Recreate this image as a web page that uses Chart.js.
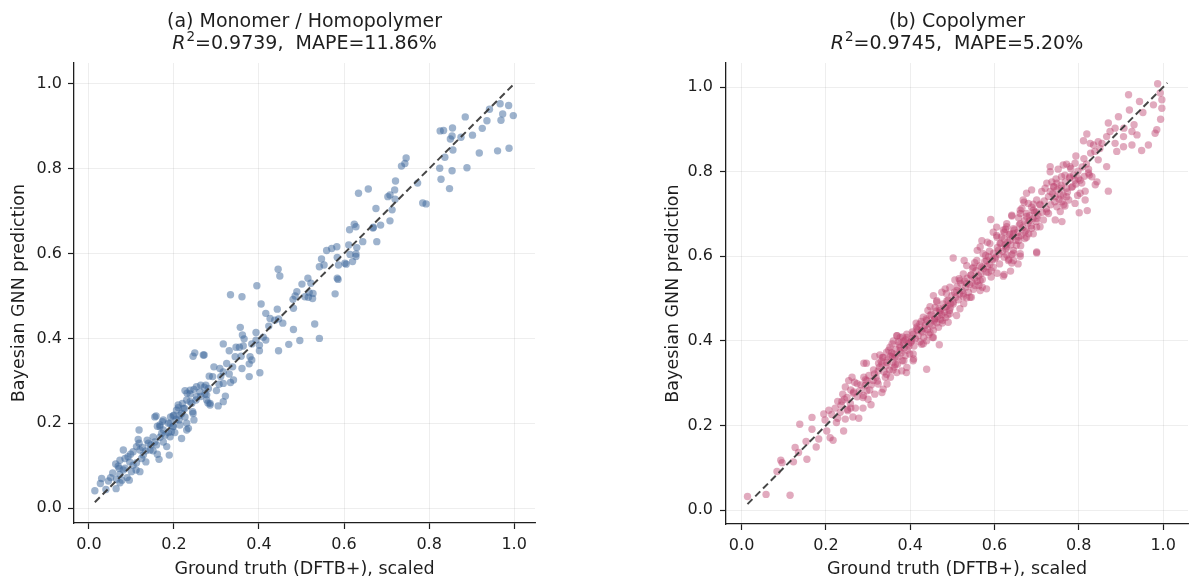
<!DOCTYPE html>
<html><head><meta charset="utf-8">
<script src="https://cdn.jsdelivr.net/npm/chart.js@4.4.1/dist/chart.umd.min.js"></script>
<style>
html,body{margin:0;padding:0;background:#fff;width:1200px;height:588px;overflow:hidden}
#wrap{position:relative;width:1200px;height:588px}
canvas{position:absolute;top:0}
#c1{left:0}
#c2{left:600px}
</style></head><body>
<div id="wrap"><canvas id="c1" width="600" height="588"></canvas><canvas id="c2" width="600" height="588"></canvas></div>
<script>
const tickValues = [0, 0.2, 0.4, 0.6, 0.8, 1.0];
const titleA = ['(a) Monomer / Homopolymer', '=0.9739,  MAPE=11.86%'];
const titleB = ['(b) Copolymer', '=0.9745,  MAPE=5.20%'];
const xLabel = 'Ground truth (DFTB+), scaled';
const yLabel = 'Bayesian GNN prediction';
const diagA = [0.014, 1.0];
const diagB = [0.014, 1.01];

// [ground truth, prediction] pairs — panel (a)
const monomerPoints = [
[0.967,0.953],[0.987,0.949],[0.942,0.940],[0.973,0.929],[0.998,0.925],[0.969,0.914],[0.936,0.913],[0.885,0.922],
[0.925,0.895],[0.902,0.879],[0.875,0.874],[0.855,0.896],[0.854,0.877],[0.850,0.870],[0.834,0.890],[0.826,0.889],
[0.856,0.844],[0.837,0.827],[0.918,0.837],[0.961,0.842],[0.988,0.848],[0.889,0.802],[0.854,0.795],[0.825,0.801],
[0.828,0.775],[0.848,0.753],[0.746,0.825],[0.743,0.812],[0.735,0.806],[0.773,0.766],[0.721,0.771],[0.719,0.750],
[0.657,0.752],[0.634,0.742],[0.703,0.734],[0.708,0.738],[0.720,0.728],[0.713,0.703],[0.675,0.706],[0.708,0.677],
[0.686,0.667],[0.668,0.660],[0.677,0.628],[0.644,0.628],[0.785,0.719],[0.793,0.717],[0.613,0.656],[0.624,0.669],
[0.628,0.663],[0.611,0.620],[0.630,0.614],[0.583,0.616],[0.571,0.612],[0.614,0.598],[0.628,0.599],[0.628,0.593],
[0.587,0.573],[0.602,0.577],[0.620,0.581],[0.584,0.542],[0.669,0.662],[0.559,0.607],[0.547,0.587],[0.542,0.569],
[0.553,0.573],[0.584,0.591],[0.605,0.575],[0.586,0.539],[0.579,0.505],[0.515,0.542],[0.501,0.528],[0.522,0.530],
[0.527,0.506],[0.518,0.508],[0.508,0.498],[0.516,0.497],[0.489,0.510],[0.485,0.500],[0.480,0.492],[0.526,0.494],
[0.445,0.563],[0.449,0.547],[0.395,0.524],[0.333,0.503],[0.360,0.498],[0.405,0.481],[0.416,0.459],[0.443,0.469],
[0.481,0.471],[0.426,0.447],[0.437,0.443],[0.446,0.446],[0.456,0.436],[0.423,0.429],[0.531,0.434],[0.481,0.421],
[0.542,0.400],[0.496,0.395],[0.470,0.386],[0.446,0.371],[0.356,0.426],[0.361,0.408],[0.393,0.414],[0.365,0.399],
[0.410,0.403],[0.416,0.396],[0.393,0.396],[0.383,0.387],[0.401,0.384],[0.363,0.382],[0.354,0.379],[0.346,0.379],
[0.316,0.387],[0.330,0.371],[0.401,0.371],[0.344,0.357],[0.358,0.358],[0.379,0.357],[0.383,0.349],[0.377,0.340],
[0.271,0.361],[0.245,0.358],[0.249,0.366],[0.294,0.333],[0.338,0.333],[0.324,0.341],[0.360,0.329],[0.308,0.329],
[0.316,0.321],[0.330,0.316],[0.310,0.310],[0.291,0.310],[0.283,0.311],[0.377,0.310],[0.402,0.319],[0.340,0.302],
[0.333,0.296],[0.316,0.294],[0.306,0.292],[0.275,0.290],[0.263,0.290],[0.253,0.286],[0.271,0.285],[0.281,0.282],
[0.247,0.280],[0.238,0.278],[0.226,0.277],[0.231,0.271],[0.300,0.277],[0.321,0.264],[0.316,0.251],[0.277,0.267],
[0.263,0.263],[0.252,0.255],[0.280,0.248],[0.285,0.243],[0.238,0.251],[0.220,0.247],[0.225,0.235],[0.244,0.227],
[0.214,0.219],[0.155,0.215],[0.175,0.208],[0.167,0.196],[0.192,0.215],[0.200,0.219],[0.206,0.231],[0.210,0.237],
[0.187,0.200],[0.198,0.193],[0.212,0.208],[0.218,0.223],
[0.014,0.041],[0.027,0.058],[0.030,0.070],[0.040,0.044],[0.051,0.072],[0.046,0.064],[0.056,0.083],[0.065,0.068],
[0.064,0.046],[0.073,0.060],[0.073,0.080],[0.078,0.066],[0.081,0.090],[0.063,0.104],[0.069,0.099],[0.073,0.113],
[0.071,0.094],[0.081,0.137],[0.085,0.094],[0.090,0.072],[0.095,0.066],[0.085,0.117],[0.092,0.121],[0.098,0.127],
[0.104,0.133],[0.096,0.109],[0.104,0.101],[0.112,0.107],[0.100,0.086],[0.111,0.090],[0.120,0.086],[0.112,0.145],
[0.118,0.153],[0.116,0.162],[0.120,0.137],[0.126,0.143],[0.128,0.125],[0.124,0.117],[0.134,0.135],[0.134,0.109],
[0.140,0.153],[0.137,0.160],[0.146,0.149],[0.144,0.137],[0.151,0.135],[0.155,0.156],[0.159,0.149],[0.161,0.127],
[0.165,0.115],[0.118,0.184],[0.151,0.168],[0.167,0.167],[0.171,0.176],[0.175,0.156],[0.183,0.145],[0.189,0.125],
[0.175,0.184],[0.179,0.172],[0.187,0.178],[0.191,0.168],[0.194,0.180],[0.167,0.192],[0.161,0.193],[0.158,0.217],
[0.173,0.204],[0.191,0.200],[0.198,0.192],[0.202,0.178],[0.214,0.196],[0.205,0.209],[0.198,0.217],[0.210,0.243],
[0.222,0.235],[0.226,0.215],[0.230,0.200],[0.234,0.188],[0.218,0.164],[0.230,0.184],[0.245,0.223],[0.247,0.208],
[0.242,0.247],[0.230,0.255],[0.253,0.263],[0.238,0.269],[0.261,0.274],[0.277,0.255],[0.285,0.247],[0.304,0.241],
[0.273,0.269],[0.269,0.361]
];

// [ground truth, prediction] pairs — panel (b)
const copolymerPoints = [
[0.014,0.032],[0.058,0.037],[0.115,0.035],[0.084,0.091],[0.093,0.118],[0.096,0.112],[0.123,0.114],[0.127,0.148],
[0.135,0.136],[0.155,0.120],[0.138,0.203],[0.153,0.162],[0.167,0.219],[0.167,0.191],[0.177,0.149],[0.183,0.168],
[0.195,0.227],[0.198,0.213],[0.207,0.236],[0.202,0.187],[0.210,0.171],[0.217,0.165],[0.225,0.207],[0.228,0.217],
[0.234,0.231],[0.246,0.215],[0.242,0.187],[0.252,0.235],[0.259,0.241],[0.264,0.220],[0.278,0.217],[0.270,0.241],
[0.288,0.241],[0.228,0.257],[0.240,0.274],[0.238,0.257],[0.250,0.266],[0.259,0.284],[0.246,0.291],[0.254,0.306],
[0.262,0.314],[0.265,0.276],[0.274,0.299],[0.280,0.282],[0.288,0.266],[0.290,0.347],[0.296,0.347],[0.290,0.314],
[0.293,0.294],[0.297,0.282],[0.300,0.262],[0.307,0.249],[0.313,0.331],[0.316,0.363],[0.328,0.367],[0.319,0.314],
[0.324,0.298],[0.316,0.274],[0.333,0.278],[0.336,0.286],[0.304,0.284],[0.297,0.306],[0.312,0.306],[0.333,0.345],
[0.345,0.349],[0.353,0.363],[0.357,0.393],[0.369,0.412],[0.376,0.377],[0.365,0.345],[0.391,0.325],[0.380,0.329],
[0.359,0.331],[0.341,0.314],[0.345,0.298],[0.324,0.329],[0.353,0.314],[0.370,0.345],[0.385,0.353],[0.399,0.369],
[0.396,0.393],[0.404,0.405],[0.408,0.357],[0.385,0.400],[0.376,0.408],[0.392,0.416],[0.361,0.369],
[0.670,0.728],[0.692,0.723],[0.699,0.705],[0.676,0.701],[0.661,0.709],[0.641,0.697],[0.591,0.687],[0.629,0.677],
[0.605,0.669],[0.597,0.657],[0.623,0.657],[0.645,0.665],[0.661,0.677],[0.683,0.685],[0.700,0.669],[0.692,0.653],
[0.676,0.645],[0.657,0.637],[0.700,0.610],[0.661,0.606],[0.645,0.614],[0.629,0.622],[0.613,0.630],[0.609,0.614],
[0.623,0.598],[0.633,0.590],[0.623,0.557],[0.645,0.590],[0.589,0.630],[0.583,0.633],[0.566,0.622],[0.559,0.614],
[0.573,0.606],[0.581,0.590],[0.601,0.594],[0.597,0.574],[0.585,0.562],[0.570,0.574],[0.558,0.590],[0.550,0.574],
[0.534,0.578],[0.528,0.590],[0.502,0.596],[0.526,0.558],[0.544,0.555],[0.566,0.543],[0.581,0.523],[0.566,0.519],
[0.554,0.531],[0.534,0.535],[0.518,0.543],[0.506,0.544],[0.542,0.503],[0.526,0.511],[0.510,0.519],[0.494,0.527],
[0.483,0.523],[0.475,0.515],[0.455,0.507],[0.463,0.495],[0.487,0.495],[0.502,0.487],[0.518,0.476],[0.510,0.460],
[0.494,0.464],[0.483,0.479],[0.471,0.472],[0.459,0.479],[0.447,0.481],[0.447,0.460],[0.459,0.452],[0.476,0.448],
[0.490,0.444],[0.467,0.432],[0.439,0.448],[0.431,0.456],[0.423,0.440],[0.427,0.424],[0.415,0.428],[0.447,0.420],
[0.455,0.408],[0.469,0.391],[0.439,0.400],[0.431,0.393],[0.407,0.416],[0.404,0.400],[0.392,0.408],[0.384,0.393],
[0.376,0.385],[0.368,0.412],[0.360,0.400],[0.352,0.385],[0.344,0.373],[0.336,0.361],[0.364,0.361],[0.388,0.365],
[0.407,0.369],[0.407,0.353],[0.392,0.337],[0.439,0.333],[0.368,0.325],[0.344,0.321],[0.570,0.637],[0.605,0.649],
[0.637,0.653],
[0.987,1.008],[0.993,0.986],[0.997,0.970],[0.977,0.958],[0.997,0.950],[0.994,0.924],[0.985,0.899],[0.981,0.891],
[0.965,0.863],[0.949,0.850],[0.952,0.940],[0.944,0.966],[0.918,0.982],[0.920,0.946],[0.894,0.930],[0.931,0.911],
[0.926,0.895],[0.938,0.887],[0.926,0.863],[0.906,0.883],[0.907,0.903],[0.886,0.903],[0.870,0.915],[0.874,0.895],
[0.866,0.883],[0.886,0.867],[0.906,0.859],[0.890,0.848],[0.855,0.867],[0.846,0.871],[0.835,0.863],[0.827,0.867],
[0.811,0.873],[0.819,0.889],[0.850,0.855],[0.838,0.848],[0.828,0.844],[0.846,0.828],[0.866,0.812],[0.793,0.837],
[0.791,0.820],[0.771,0.818],[0.763,0.816],[0.732,0.812],[0.732,0.800],[0.751,0.806],[0.779,0.812],[0.823,0.806],
[0.825,0.792],[0.831,0.788],[0.843,0.776],[0.839,0.769],[0.870,0.754],[0.815,0.754],[0.807,0.773],[0.799,0.784],
[0.791,0.780],[0.779,0.788],[0.767,0.792],[0.759,0.788],[0.785,0.765],[0.771,0.761],[0.758,0.761],[0.748,0.773],
[0.740,0.765],[0.736,0.776],[0.724,0.773],[0.720,0.761],[0.732,0.753],[0.744,0.741],[0.756,0.745],[0.771,0.741],
[0.760,0.729],[0.815,0.733],[0.820,0.708],[0.801,0.703],[0.791,0.725],[0.767,0.719],[0.748,0.717],[0.760,0.682],
[0.744,0.686],[0.724,0.705],[0.708,0.721],[0.700,0.733],[0.712,0.753],[0.688,0.757],[0.676,0.749],[0.668,0.733],
[0.680,0.725],[0.692,0.709],[0.665,0.713],[0.661,0.701],[0.676,0.694],[0.700,0.690],[0.716,0.686],[0.708,0.670],
[0.688,0.666],[0.672,0.658],[0.641,0.695],[0.629,0.670],[0.621,0.662],[0.617,0.646],[0.645,0.654],[0.657,0.646],
[0.637,0.638],[0.625,0.626],[0.652,0.626],[0.645,0.607],[0.629,0.603],[0.700,0.608],[0.661,0.600],[0.803,0.749],
[0.621,0.553],[0.641,0.584],[0.638,0.565],[0.606,0.560],[0.656,0.582],
[0.302,0.318],[0.308,0.296],[0.315,0.322],[0.322,0.305],[0.327,0.338],[0.331,0.352],[0.338,0.327],[0.343,0.341],
[0.347,0.356],[0.351,0.331],[0.356,0.372],[0.359,0.349],[0.362,0.338],[0.366,0.380],[0.371,0.362],[0.374,0.391],
[0.378,0.371],[0.381,0.353],[0.386,0.383],[0.389,0.402],[0.393,0.378],[0.397,0.388],[0.372,0.398],[0.382,0.409],
[0.358,0.364],[0.349,0.378],[0.334,0.361],[0.325,0.347],
[0.401,0.396],[0.405,0.421],[0.409,0.388],[0.412,0.405],[0.416,0.433],[0.419,0.412],[0.423,0.398],[0.426,0.446],
[0.429,0.421],[0.432,0.408],[0.436,0.437],[0.438,0.452],[0.441,0.427],[0.444,0.415],[0.447,0.441],[0.450,0.463],
[0.452,0.436],[0.455,0.425],[0.458,0.452],[0.461,0.470],[0.463,0.443],[0.466,0.458],[0.469,0.476],[0.472,0.451],
[0.475,0.462],[0.478,0.487],[0.481,0.468],[0.484,0.455],[0.487,0.481],[0.490,0.496],[0.493,0.472],[0.496,0.488],
[0.499,0.507],[0.414,0.442],[0.427,0.392],[0.453,0.408],[0.476,0.442],[0.463,0.492],[0.486,0.512],[0.442,0.472],
[0.418,0.425],[0.433,0.430],[0.457,0.447],[0.471,0.467],[0.489,0.462],[0.495,0.478],
[0.502,0.492],[0.505,0.515],[0.508,0.503],[0.511,0.528],[0.514,0.497],[0.517,0.511],[0.520,0.536],[0.523,0.519],
[0.526,0.505],[0.529,0.541],[0.532,0.527],[0.535,0.548],[0.538,0.515],[0.541,0.533],[0.544,0.556],[0.547,0.538],
[0.550,0.522],[0.553,0.548],[0.556,0.566],[0.559,0.541],[0.562,0.554],[0.565,0.577],[0.568,0.559],[0.571,0.545],
[0.574,0.571],[0.577,0.588],[0.580,0.563],[0.583,0.576],[0.586,0.599],[0.589,0.581],[0.592,0.566],[0.595,0.592],
[0.598,0.607],[0.516,0.547],[0.534,0.502],[0.548,0.571],[0.563,0.531],[0.579,0.602],[0.592,0.551],[0.527,0.488],
[0.553,0.585],[0.571,0.527],[0.588,0.612],[0.545,0.503],
[0.603,0.598],[0.607,0.621],[0.611,0.605],[0.615,0.631],[0.619,0.612],[0.623,0.641],[0.627,0.618],[0.631,0.633],
[0.635,0.651],[0.639,0.627],[0.643,0.646],[0.647,0.662],[0.651,0.638],[0.655,0.657],[0.659,0.674],[0.663,0.649],
[0.667,0.668],[0.671,0.684],[0.675,0.661],[0.679,0.678],[0.683,0.696],[0.687,0.672],[0.691,0.689],[0.695,0.705],
[0.699,0.682],[0.612,0.582],[0.626,0.664],[0.641,0.604],[0.657,0.691],[0.672,0.642],[0.688,0.716],[0.606,0.645],
[0.634,0.593],[0.662,0.625],[0.681,0.653],
[0.703,0.697],[0.708,0.723],[0.713,0.704],[0.718,0.731],[0.723,0.712],[0.728,0.741],[0.733,0.722],[0.738,0.748],
[0.743,0.729],[0.748,0.757],[0.753,0.735],[0.758,0.768],[0.763,0.745],[0.768,0.776],[0.773,0.752],[0.778,0.785],
[0.783,0.763],[0.788,0.792],[0.793,0.771],[0.798,0.801],[0.803,0.780],[0.808,0.811],[0.813,0.789],[0.818,0.818],
[0.823,0.797],[0.728,0.701],[0.746,0.783],[0.764,0.722],[0.781,0.807],[0.797,0.744],[0.812,0.831],[0.756,0.706],
[0.741,0.764],[0.776,0.733],
[0.214,0.226],[0.222,0.241],[0.236,0.248],[0.244,0.262],[0.258,0.252],[0.266,0.279],[0.274,0.268],[0.283,0.296],
[0.289,0.271],[0.294,0.308],[0.268,0.302],[0.251,0.238]
];

const FONT = "'DejaVu Sans', 'Liberation Sans', sans-serif";
const INK = '#1e1e1e';

function panelText(title, yLabelX) {
  return {
    id: 'panelText',
    afterDraw(chart) {
      const ctx = chart.ctx, a = chart.chartArea;
      const cx = (a.left + a.right) / 2;
      ctx.save();
      ctx.fillStyle = INK;
      ctx.textBaseline = 'alphabetic';
      ctx.textAlign = 'center';
      ctx.font = '19px ' + FONT;
      ctx.fillText(title[0], cx, 27);
      const fIt = 'italic 19px ' + FONT, fSup = '13.5px ' + FONT, fMain = '19px ' + FONT;
      ctx.font = fIt; const wR = ctx.measureText('R').width;
      ctx.font = fSup; const wS = ctx.measureText('2').width;
      ctx.font = fMain; const wT = ctx.measureText(title[1]).width;
      const total = wR + 1 + wS + wT;
      let x = cx - total / 2;
      ctx.textAlign = 'left';
      ctx.font = fIt; ctx.fillText('R', x, 49); x += wR + 1;
      ctx.font = fSup; ctx.fillText('2', x, 41); x += wS;
      ctx.font = fMain; ctx.fillText(title[1], x, 49);
      ctx.textAlign = 'center';
      ctx.font = '17.5px ' + FONT;
      ctx.fillText(xLabel, cx, 574);
      ctx.translate(yLabelX, (a.top + a.bottom) / 2);
      ctx.rotate(-Math.PI / 2);
      ctx.fillText(yLabel, 0, 0);
      ctx.restore();
    }
  };
}

function makeChart(id, pts, diag, title, color, g) {
  const tickOpts = {
    callback: v => Number(v).toFixed(1),
    font: { family: FONT, size: 16 },
    color: INK,
    padding: g.tickPad,
    maxRotation: 0,
    autoSkip: false
  };
  const gridOpts = {
    color: 'rgba(0,0,0,0.075)',
    lineWidth: 0.9,
    drawTicks: true,
    tickLength: 6,
    tickColor: INK,
    tickWidth: 1.2
  };
  const borderOpts = { display: true, color: INK, width: 1.3 };
  return new Chart(document.getElementById(id), {
    type: 'scatter',
    data: {
      datasets: [
        {
          data: diag.map(v => ({ x: v, y: v })),
          showLine: true,
          borderColor: 'rgba(50,50,50,0.9)',
          borderWidth: 2,
          borderDash: [7, 4],
          pointRadius: 0,
          fill: false,
          order: 0
        },
        {
          data: pts.map(p => ({ x: p[0], y: p[1] })),
          backgroundColor: color,
          borderWidth: 0,
          pointRadius: 3.7,
          pointHoverRadius: 3.7,
          order: 1
        }
      ]
    },
    options: {
      responsive: false,
      animation: false,
      devicePixelRatio: 1,
      events: [],
      layout: { padding: { left: 0, right: g.padR, top: 63, bottom: 0 } },
      plugins: { legend: { display: false }, tooltip: { enabled: false }, title: { display: false } },
      scales: {
        x: {
          type: 'linear', min: g.xMin, max: g.xMax,
          afterBuildTicks: s => { s.ticks = tickValues.map(v => ({ value: v })); },
          afterFit: s => { s.height = g.xH; },
          ticks: Object.assign({}, tickOpts, { padding: 6 }),
          grid: gridOpts,
          border: borderOpts
        },
        y: {
          type: 'linear', min: g.yMin, max: g.yMax,
          afterBuildTicks: s => { s.ticks = tickValues.map(v => ({ value: v })); },
          afterFit: s => { s.width = g.yW; },
          ticks: tickOpts,
          grid: gridOpts,
          border: borderOpts
        }
      }
    },
    plugins: [panelText(title, g.yLabelX)]
  });
}

makeChart('c1', monomerPoints, diagA, titleA, 'rgba(62,104,155,0.5)',
  { yW: 74, padR: 65, xH: 65, xMin: -0.035, xMax: 1.049, yMin: -0.035, yMax: 1.049, tickPad: 6, yLabelX: 24 });
makeChart('c2', copolymerPoints, diagB, titleB, 'rgba(188,66,111,0.45)',
  { yW: 126, padR: 12, xH: 64, xMin: -0.037, xMax: 1.059, yMin: -0.033, yMax: 1.057, tickPad: 7, yLabelX: 78 });
</script>
</body></html>
